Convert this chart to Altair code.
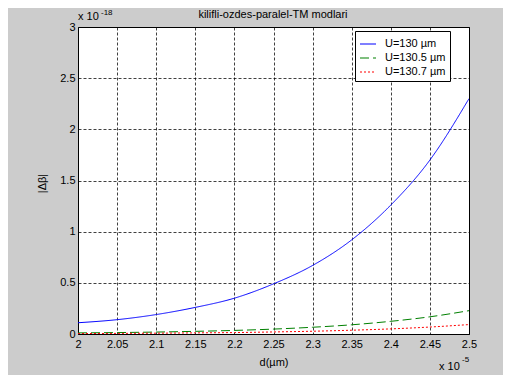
import altair as alt
import pandas as pd

# d values (in units of 1e-5 m)
d_values = [2.00, 2.05, 2.10, 2.15, 2.20, 2.25, 2.30, 2.35, 2.40, 2.45, 2.50]
# |delta beta| values (in units of 1e-18)
blue_vals = [0.11, 0.14, 0.19, 0.26, 0.35, 0.49, 0.67, 0.92, 1.26, 1.70, 2.30]
green_vals = [0.011, 0.014, 0.019, 0.026, 0.035, 0.048, 0.066, 0.090, 0.124, 0.168, 0.228]
red_vals = [0.004, 0.006, 0.008, 0.011, 0.014, 0.020, 0.027, 0.037, 0.050, 0.068, 0.092]
series_names = ["U=130 \u00b5m", "U=130.5 \u00b5m", "U=130.7 \u00b5m"]
series_colors = ["#0000ff", "#008000", "#ff0000"]
y_ticks = [0, 0.5, 1, 1.5, 2, 2.5, 3]
title_text = "kilifli-ozdes-paralel-TM modlari"

rows = []
for name, vals in zip(series_names, [blue_vals, green_vals, red_vals]):
    for d, v in zip(d_values, vals):
        rows.append({"d": d, "dbeta": v, "series": name})
df = pd.DataFrame(rows)

FONT = "Liberation Sans"
W, H = 391, 307

legend_cfg = dict(orient="none", legendX=277, legendY=4, title=None,
                  fillColor="white", strokeColor="black", padding=4,
                  symbolType="stroke", symbolSize=256, symbolStrokeWidth=1.2,
                  labelFont=FONT, labelFontSize=11, labelColor="black",
                  labelOffset=8, rowPadding=0)

lines = alt.Chart(df).mark_line(strokeWidth=1, interpolate="monotone", clip=True).encode(
    x=alt.X("d:Q",
            scale=alt.Scale(domain=[2.0, 2.5], nice=False, zero=False),
            axis=alt.Axis(values=d_values, format="~g", title="d(\u00b5m)",
                          grid=True, gridColor="black", gridDash=[3, 2], gridOpacity=0.75,
                          ticks=False, domain=False, labelPadding=4,
                          labelFont=FONT, labelFontSize=11, labelColor="black",
                          labelFlush=False,
                          titleFont=FONT, titleFontSize=11, titleFontWeight="normal",
                          titleColor="black", titleY=28, titleBaseline="middle")),
    y=alt.Y("dbeta:Q",
            scale=alt.Scale(domain=[0, 3], nice=False, zero=True),
            axis=alt.Axis(values=y_ticks, format="~g", title="|\u0394\u03b2|",
                          grid=True, gridColor="black", gridDash=[3, 2], gridOpacity=0.75,
                          ticks=False, domain=False, labelPadding=3,
                          labelFont=FONT, labelFontSize=11, labelColor="black",
                          labelFlush=False,
                          titleFont=FONT, titleFontSize=11, titleFontWeight="normal",
                          titleColor="black", titleX=-36, titleY=156,
                          titleAlign="center", titleBaseline="middle")),
    color=alt.Color("series:N",
                    scale=alt.Scale(domain=series_names, range=series_colors),
                    legend=alt.Legend(**legend_cfg)),
    strokeDash=alt.StrokeDash("series:N",
                              scale=alt.Scale(domain=series_names,
                                              range=[[1, 0], [9, 4], [2, 2]]),
                              legend=alt.Legend(**legend_cfg)),
)

def txt(s, x, y, size=11, align="left"):
    return alt.Chart(pd.DataFrame({"t": [s]})).mark_text(
        font=FONT, fontSize=size, color="black", align=align, baseline="middle"
    ).encode(x=alt.value(x), y=alt.value(y), text="t:N")

annotations = [
    txt(title_text, 195, -12, 11, "center"),
    txt("x 10", 0, -10),
    txt("-18", 23, -14, 8),
    txt("x 10", 361, 340),
    txt("-5", 384, 333, 8),
]

chart = alt.layer(lines, *annotations).properties(
    width=W, height=H,
    autosize=alt.AutoSizeParams(type="none"),
    padding={"left": 70, "top": 19, "right": 34, "bottom": 41},
    background="#cccccc",
).configure_view(
    stroke="black", strokeWidth=1, fill="white"
)

chart.save("out.html", embed_options={"renderer": "svg", "actions": False})
